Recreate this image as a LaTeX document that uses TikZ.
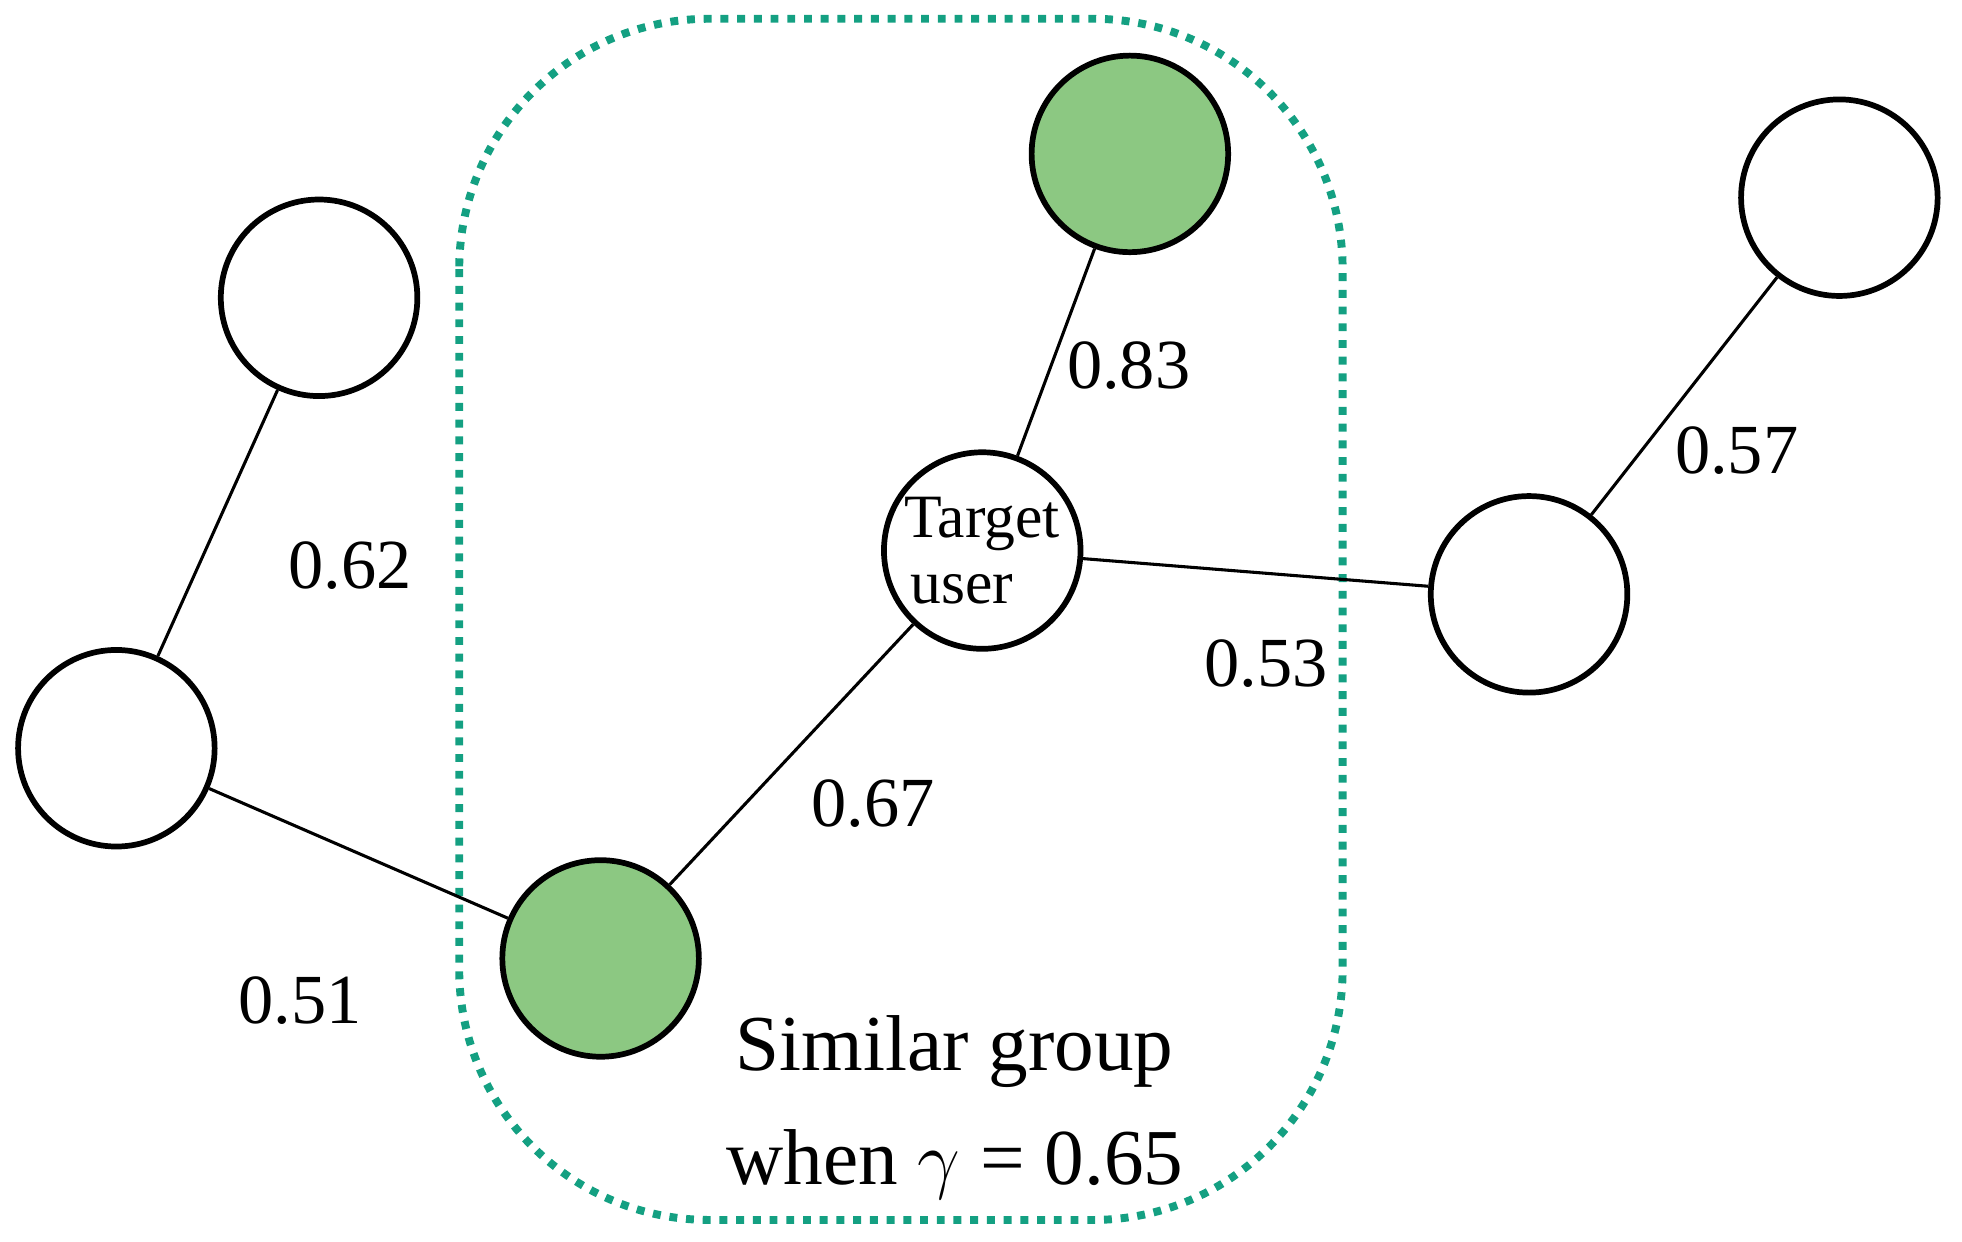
\documentclass[tikz,border=0pt]{standalone}
\usepackage{fontspec}
\setmainfont{Liberation Serif}
\definecolor{grp}{RGB}{20,160,130}
\definecolor{gfill}{RGB}{140,200,130}
\begin{document}
\begin{tikzpicture}[x=0.01cm,y=-0.01cm,
  usr/.style={circle,draw,line width=1.3pt,minimum size=1.57cm,inner sep=0pt,fill=white},
  sim/.style={usr,fill=gfill},
  lbl/.style={font=\fontsize{16}{19}\selectfont},
  edge/.style={line width=0.7pt}]
\useasboundingbox (0,0) rectangle (1568,992);
\draw[grp,line width=1.8pt,dotted,rounded corners=2cm] (367,15) rectangle (1073,975);
\node[usr] (A) at (255,238) {};
\node[usr] (B) at (93,598) {};
\node[sim] (C) at (480,766) {};
\node[usr,align=center,font=\fontsize{14}{15}\selectfont] (T) at (785,440) {Target\\user\,\,\,\,};
\node[sim] (D) at (903,123) {};
\node[usr] (E) at (1222,475) {};
\node[usr] (F) at (1470,158) {};
\draw[edge] (A) -- (B);
\draw[edge] (B) -- (C);
\draw[edge] (C) -- (T);
\draw[edge] (T) -- (D);
\draw[edge] (T) -- (E);
\draw[edge] (E) -- (F);
\node[lbl] (l1) at (280,452) {0.62};
\node[lbl] (l2) at (240,800) {0.51};
\node[lbl] (l3) at (698,642) {0.67};
\node[lbl] (l4) at (902,292) {0.83};
\node[lbl] (l5) at (1012,530) {0.53};
\node[lbl] (l6) at (1388,360) {0.57};
\node[lbl,align=center,font=\fontsize{18}{26}\selectfont] (g) at (763,885) {Similar group\\when $\gamma$ = 0.65};
\end{tikzpicture}
\end{document}
